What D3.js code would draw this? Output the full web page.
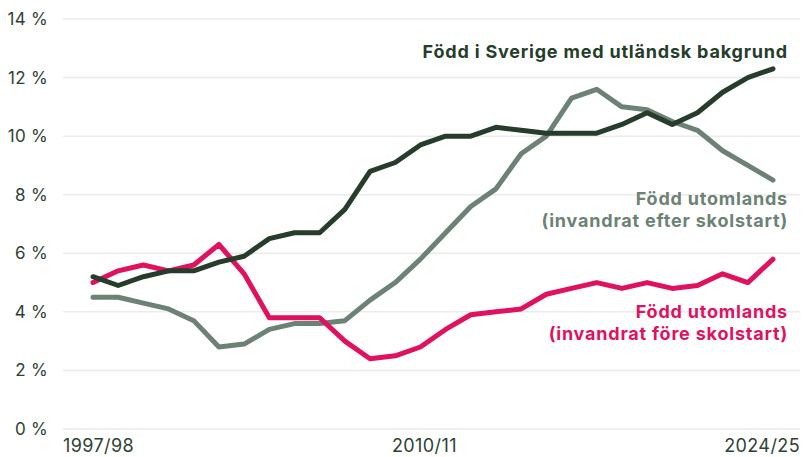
<!DOCTYPE html>
<html>
<head>
<meta charset="utf-8">
<script src="https://cdn.jsdelivr.net/npm/d3@7"></script>
<style>
  body { margin: 0; background: #fff; }
  svg text { font-family: Inter, "Noto Sans", sans-serif; }
</style>
</head>
<body>
<div id="chart"></div>
<script>
const years = [
  "1997/98", "1998/99", "1999/00", "2000/01", "2001/02", "2002/03", "2003/04",
  "2004/05", "2005/06", "2006/07", "2007/08", "2008/09", "2009/10", "2010/11",
  "2011/12", "2012/13", "2013/14", "2014/15", "2015/16", "2016/17", "2017/18",
  "2018/19", "2019/20", "2020/21", "2021/22", "2022/23", "2023/24", "2024/25"
];
const swedenBorn = [5.2, 4.9, 5.2, 5.4, 5.4, 5.7, 5.9, 6.5, 6.7, 6.7, 7.5, 8.8, 9.1, 9.7,
  10.0, 10.0, 10.3, 10.2, 10.1, 10.1, 10.1, 10.4, 10.8, 10.4, 10.8, 11.5, 12.0, 12.3];
const afterStart = [4.5, 4.5, 4.3, 4.1, 3.7, 2.8, 2.9, 3.4, 3.6, 3.6, 3.7, 4.4, 5.0, 5.8,
  6.7, 7.6, 8.2, 9.4, 10.0, 11.3, 11.6, 11.0, 10.9, 10.5, 10.2, 9.5, 9.0, 8.5];
const beforeStart = [5.0, 5.4, 5.6, 5.4, 5.6, 6.3, 5.3, 3.8, 3.8, 3.8, 3.0, 2.4, 2.5, 2.8,
  3.4, 3.9, 4.0, 4.1, 4.6, 4.8, 5.0, 4.8, 5.0, 4.8, 4.9, 5.3, 5.0, 5.8];
const yTicks = [0, 2, 4, 6, 8, 10, 12, 14];
const xLabels = ["1997/98", "2010/11", "2024/25"];

const series = [
  { name: "afterStart", values: afterStart, color: "#6b8274",
    label: ["Född utomlands", "(invandrat efter skolstart)"], labelY: 205 },
  { name: "beforeStart", values: beforeStart, color: "#e0115f",
    label: ["Född utomlands", "(invandrat före skolstart)"], labelY: 318 },
  { name: "swedenBorn", values: swedenBorn, color: "#263d2b",
    label: ["Född i Sverige med utländsk bakgrund"], labelY: 58 }
];

const width = 803, height = 457;
const textColor = "#2e4233";

const svg = d3.select("#chart").append("svg")
  .attr("width", width)
  .attr("height", height);

const x = d3.scalePoint().domain(years).range([93, 773]);
const y = d3.scaleLinear().domain([0, 14]).range([429, 19]);

// grid
svg.append("g")
  .selectAll("line")
  .data(yTicks)
  .join("line")
  .attr("x1", 63)
  .attr("x2", 800)
  .attr("y1", (d) => y(d))
  .attr("y2", (d) => y(d))
  .attr("stroke", "#ebebeb")
  .attr("stroke-width", 1.5);

// y labels
svg.append("g")
  .selectAll("text")
  .data(yTicks)
  .join("text")
  .attr("x", 48)
  .attr("y", (d) => y(d) + 6)
  .attr("text-anchor", "end")
  .attr("font-size", 17)
  .attr("letter-spacing", 0.3)
  .attr("fill", textColor)
  .text((d) => d + " %");

// x labels
svg.append("g")
  .selectAll("text")
  .data(xLabels)
  .join("text")
  .attr("x", (d, i) => i === 0 ? 63 : i === 2 ? 800 : x(d) + 4)
  .attr("y", 452)
  .attr("text-anchor", (d, i) => i === 0 ? "start" : i === 2 ? "end" : "middle")
  .attr("font-size", 18)
  .attr("letter-spacing", 0.4)
  .attr("fill", textColor)
  .text((d) => d);

const line = d3.line()
  .x((d, i) => x(years[i]))
  .y((d) => y(d));

svg.append("g")
  .selectAll("path")
  .data(series)
  .join("path")
  .attr("d", (d) => line(d.values))
  .attr("fill", "none")
  .attr("stroke", (d) => d.color)
  .attr("stroke-width", 5)
  .attr("stroke-linejoin", "round")
  .attr("stroke-linecap", "round");

// series labels
series.forEach((s) => {
  const t = svg.append("text")
    .attr("text-anchor", "end")
    .attr("font-size", 18)
    .attr("font-weight", 700)
    .attr("letter-spacing", 0.8)
    .attr("fill", s.color);
  s.label.forEach((l, i) => {
    t.append("tspan")
      .attr("x", 788)
      .attr("y", s.labelY + i * 22)
      .text(l);
  });
});
</script>
</body>
</html>
